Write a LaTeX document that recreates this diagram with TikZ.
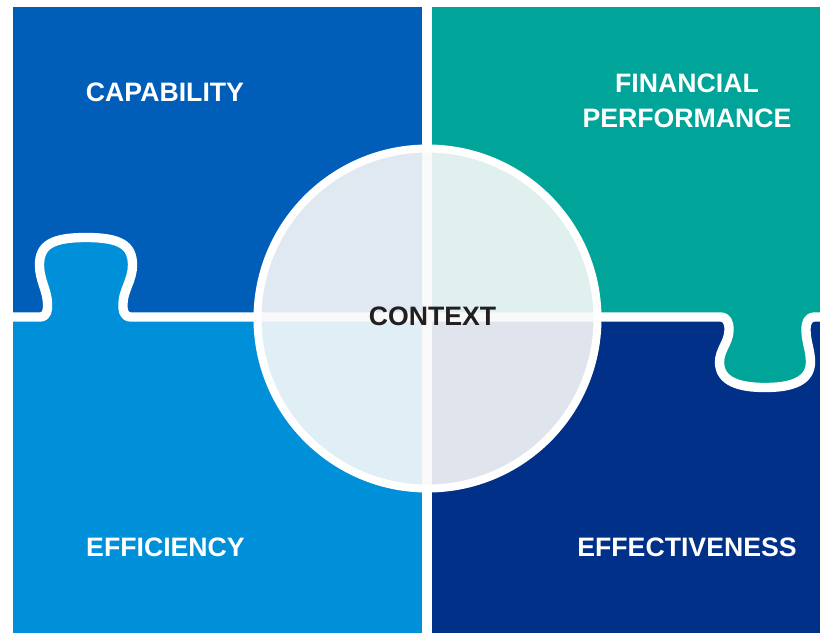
\documentclass[tikz,border=0pt]{standalone}
\usepackage{fontspec}
\setmainfont{Liberation Sans}
\usetikzlibrary{positioning}
\definecolor{capblue}{HTML}{005EB8}
\definecolor{finteal}{HTML}{00A499}
\definecolor{effblue}{HTML}{0090D9}
\definecolor{efvblue}{HTML}{003087}
\definecolor{ctxtext}{HTML}{231F20}

\begin{document}
\begin{tikzpicture}[
    x=0.75pt, y=-0.75pt,
    piecetext/.style={font=\fontsize{20}{26.25}\selectfont\bfseries, text=white, inner sep=0pt, align=center},
    seam/.style={white, line width=7pt, line join=round},
]
\useasboundingbox (0,0) rectangle (820,633);

% Puzzle pieces
\fill[capblue] (12.5,7) rectangle (427,317);
\fill[finteal] (427,7) rectangle (820,317);
\fill[effblue] (12.5,317) rectangle (427,633);
\fill[efvblue] (427,317) rectangle (820,633);

% Knobs
\fill[effblue] (40,317) .. controls (47,317) and (48,310) .. (47.5,303)
    .. controls (47,290) and (39.5,280) .. (39.5,265)
    .. controls (39.5,245) and (52,237.5) .. (86,237.5)
    .. controls (120,237.5) and (132.5,245) .. (132.5,265)
    .. controls (132.5,280) and (123.5,290) .. (123,303)
    .. controls (122.5,310) and (123.5,317) .. (131,317) -- cycle;
\fill[finteal] (720,317) .. controls (727,317) and (729,322) .. (729,330)
    .. controls (729,342) and (719.5,350) .. (719.5,362)
    .. controls (719.5,382) and (740,387.5) .. (765,387.5)
    .. controls (790,387.5) and (810.5,382) .. (810.5,362)
    .. controls (810.5,350) and (806,342) .. (806,330)
    .. controls (806,322) and (808,317) .. (815,317) -- cycle;

% Seams
\draw[seam] (427,0) -- (427,633);
\draw[seam] (0,317) -- (40,317) .. controls (47,317) and (48,310) .. (47.5,303)
    .. controls (47,290) and (39.5,280) .. (39.5,265)
    .. controls (39.5,245) and (52,237.5) .. (86,237.5)
    .. controls (120,237.5) and (132.5,245) .. (132.5,265)
    .. controls (132.5,280) and (123.5,290) .. (123,303)
    .. controls (122.5,310) and (123.5,317) .. (131,317)
    -- (720,317) .. controls (727,317) and (729,322) .. (729,330)
    .. controls (729,342) and (719.5,350) .. (719.5,362)
    .. controls (719.5,382) and (740,387.5) .. (765,387.5)
    .. controls (790,387.5) and (810.5,382) .. (810.5,362)
    .. controls (810.5,350) and (806,342) .. (806,330)
    .. controls (806,322) and (808,317) .. (815,317) -- (820,317);

% Context circle
\draw[white, line width=6pt, fill=gray!5, fill opacity=0.9] (427.5,318.5) circle[radius=170];

% Labels
\node[piecetext] (capability) at (165,92) {CAPABILITY};
\node[piecetext] (finance) at (687,101.2) {FINANCIAL\\PERFORMANCE};
\node[piecetext] (efficiency) at (165.5,547) {EFFICIENCY};
\node[piecetext] (effectiveness) at (687,547) {EFFECTIVENESS};
\node[piecetext, text=ctxtext] (context) at (432.5,316.5) {CONTEXT};
\end{tikzpicture}
\end{document}
